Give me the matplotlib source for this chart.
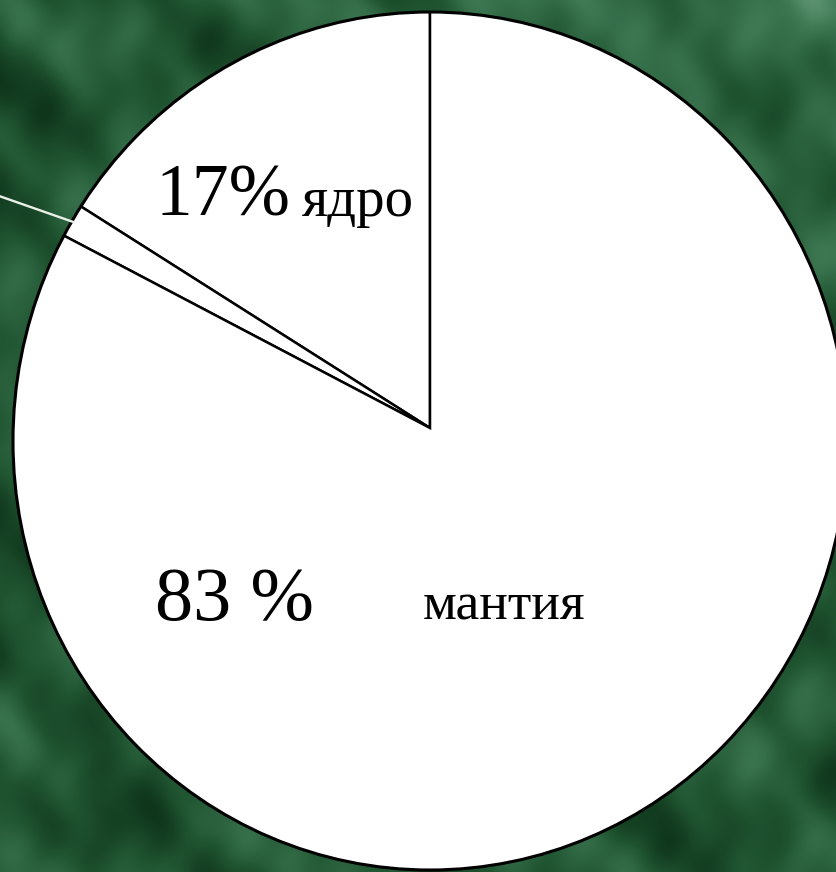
import numpy as np
import matplotlib
matplotlib.use('Agg')
import matplotlib.pyplot as plt
from matplotlib.patches import Ellipse
from matplotlib.colors import LinearSegmentedColormap

# данные: доли слоёв (читаются по углам секторов)
layers = ['ядро', 'кора', 'мантия']
shares = [16.0, 1.3, 82.7]
label_core = ['17%', 'ядро']
label_mantle = ['83 %', 'мантия']

W, H = 837, 872
fig = plt.figure(figsize=(W / 100, H / 100), dpi=100)
ax = fig.add_axes([0, 0, 1, 1])

# фон - тёмно-зелёная "текстура"
gx, gy = np.meshgrid(np.linspace(0, W, 420), np.linspace(0, H, 436))
tex = (0.33
       + 0.10 * np.sin(gx / 41 + 2.2 * np.sin(gy / 67))
       + 0.08 * np.cos(gy / 23 + 1.7 * np.sin(gx / 51))
       + 0.06 * np.sin((gx + gy) / 19)
       + 0.04 * np.sin(gx / 9 + np.cos(gy / 13))
       + 0.25 * (gx / W) * (gy / H) ** 2)
cmap = LinearSegmentedColormap.from_list('bg', ['#0a2c14', '#1f5330', '#3f7a55', '#7aaa8a'])
ax.imshow(tex, extent=[0, W, 0, H], origin='lower', cmap=cmap, vmin=0, vmax=1,
          aspect='auto', zorder=0, interpolation='bicubic')

apex = (430, H - 428)
oval_c = (430, H - 441)
oval_w, oval_h = 2 * 417, 2 * 429

wedges, _ = ax.pie(shares, startangle=90, counterclock=True, center=apex, radius=470,
                   colors=['white'] * 3,
                   wedgeprops=dict(edgecolor='black', linewidth=1.8))
clip = Ellipse(oval_c, oval_w, oval_h, transform=ax.transData)
for w in wedges:
    w.set_clip_on(True)       # pie ставит clip_on=False
    w.set_clip_path(clip)
    w.set_zorder(2)
ax.add_patch(Ellipse(oval_c, oval_w, oval_h, fill=False, edgecolor='black',
                     linewidth=2.2, zorder=3))

# выноска от коры (белая линия за край рисунка)
crust = wedges[1]
mid = np.deg2rad((crust.theta1 + crust.theta2) / 2)
x0 = apex[0] + 410 * np.cos(mid)
y0 = apex[1] + 410 * np.sin(mid)
ang = np.deg2rad(160.7)
t = (x0 + 20) / -np.cos(ang)
ax.plot([x0, x0 + t * np.cos(ang)], [y0, y0 + t * np.sin(ang)],
        color='#e8f0e8', lw=1.7, zorder=4, solid_capstyle='butt')

serif = ['Liberation Serif', 'DejaVu Serif']
ax.text(156, H - 216, label_core[0], fontsize=53, family=serif, ha='left', va='baseline', zorder=5)
ax.text(302, H - 216, label_core[1], fontsize=41, family=serif, ha='left', va='baseline', zorder=5)
ax.text(155, H - 620, label_mantle[0], fontsize=55, family=serif, ha='left', va='baseline', zorder=5)
ax.text(423, H - 620, label_mantle[1], fontsize=38.5, family=serif, ha='left', va='baseline', zorder=5)

ax.set_xlim(0, W)
ax.set_ylim(0, H)
ax.set_aspect('auto')
ax.axis('off')
fig.savefig('out.png', dpi=100)
